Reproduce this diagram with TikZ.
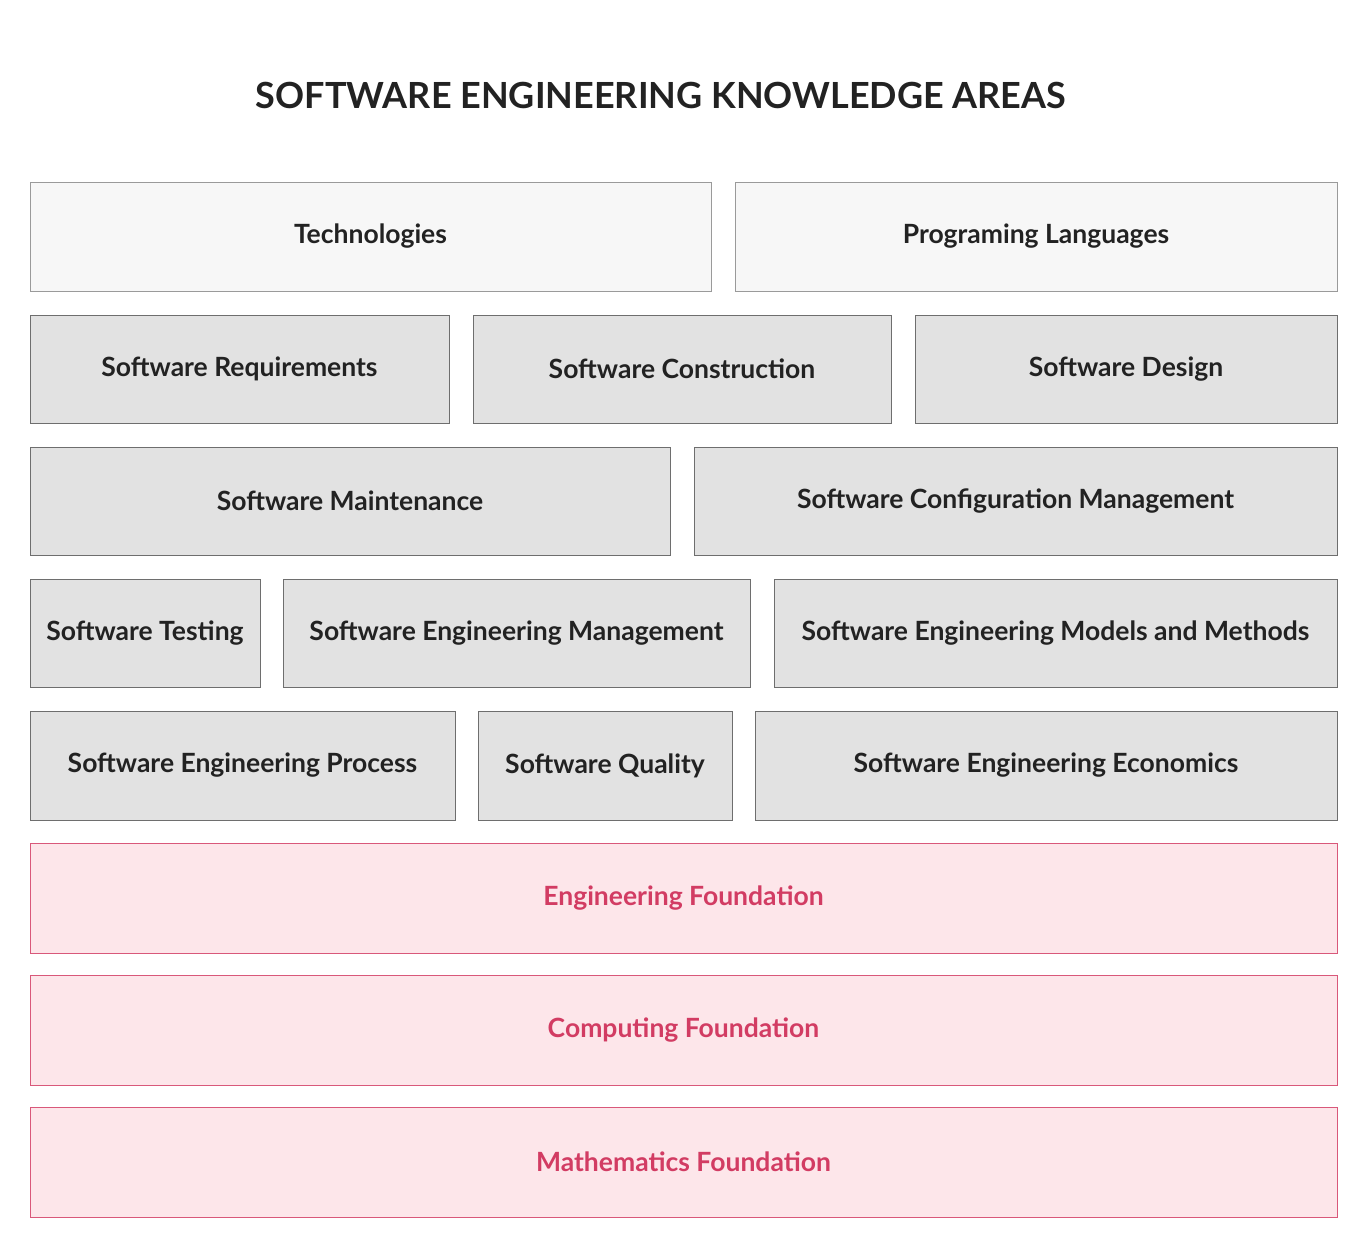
\documentclass[tikz,border=0pt]{standalone}
\usepackage{fontspec}
\setmainfont{Lato}
\definecolor{gfill}{HTML}{E2E2E2}
\definecolor{gline}{HTML}{6E6E6E}
\definecolor{lfill}{HTML}{F7F7F7}
\definecolor{lline}{HTML}{9A9A9A}
\definecolor{pfill}{HTML}{FDE6EA}
\definecolor{pline}{HTML}{D9587A}
\definecolor{ptext}{HTML}{D23C63}
\definecolor{ttext}{HTML}{222222}
\begin{document}
\begin{tikzpicture}[x=1pt,y=-1pt,
  lbl/.style={font=\fontsize{26.5}{30}\selectfont\bfseries, text=ttext},
  gbox/.style={draw=gline, fill=gfill, line width=0.9pt},
  lbox/.style={draw=lline, fill=lfill, line width=0.9pt},
  pbox/.style={draw=pline, fill=pfill, line width=0.9pt}]
\useasboundingbox (0,0) rectangle (1367,1251);
\node[font=\fontsize{36}{40}\selectfont\bfseries, text=ttext] (title) at (661,95) {SOFTWARE ENGINEERING KNOWLEDGE AREAS};
\newcommand{\mybox}[7]{\draw[#1] (#2,#3) rectangle (#4,#5); \node[lbl,#6] (n#2#3) at ({(#2+#4)/2},{(#3+#5)/2}) {#7};}
\mybox{lbox}{30}{182}{711}{291}{}{Technologies}
\mybox{lbox}{735}{182}{1337}{291}{}{Programing Languages}
\mybox{gbox}{30}{315}{449}{423}{}{Software Requirements}
\mybox{gbox}{473}{315}{891}{423}{}{Software Construction}
\mybox{gbox}{915}{315}{1337}{423}{}{Software Design}
\mybox{gbox}{30}{447}{670}{555}{}{Software Maintenance}
\mybox{gbox}{694}{447}{1337}{555}{}{Software Configuration Management}
\mybox{gbox}{30}{579}{260}{687}{}{Software Testing}
\mybox{gbox}{283}{579}{750}{687}{}{Software Engineering Management}
\mybox{gbox}{774}{579}{1337}{687}{}{Software Engineering Models and Methods}
\mybox{gbox}{30}{711}{455}{820}{}{Software Engineering Process}
\mybox{gbox}{478}{711}{732}{820}{}{Software Quality}
\mybox{gbox}{755}{711}{1337}{820}{}{Software Engineering Economics}
\mybox{pbox}{30}{843}{1337}{953}{text=ptext}{Engineering Foundation}
\mybox{pbox}{30}{975}{1337}{1085}{text=ptext}{Computing Foundation}
\mybox{pbox}{30}{1107}{1337}{1217}{text=ptext}{Mathematics Foundation}
\end{tikzpicture}
\end{document}
